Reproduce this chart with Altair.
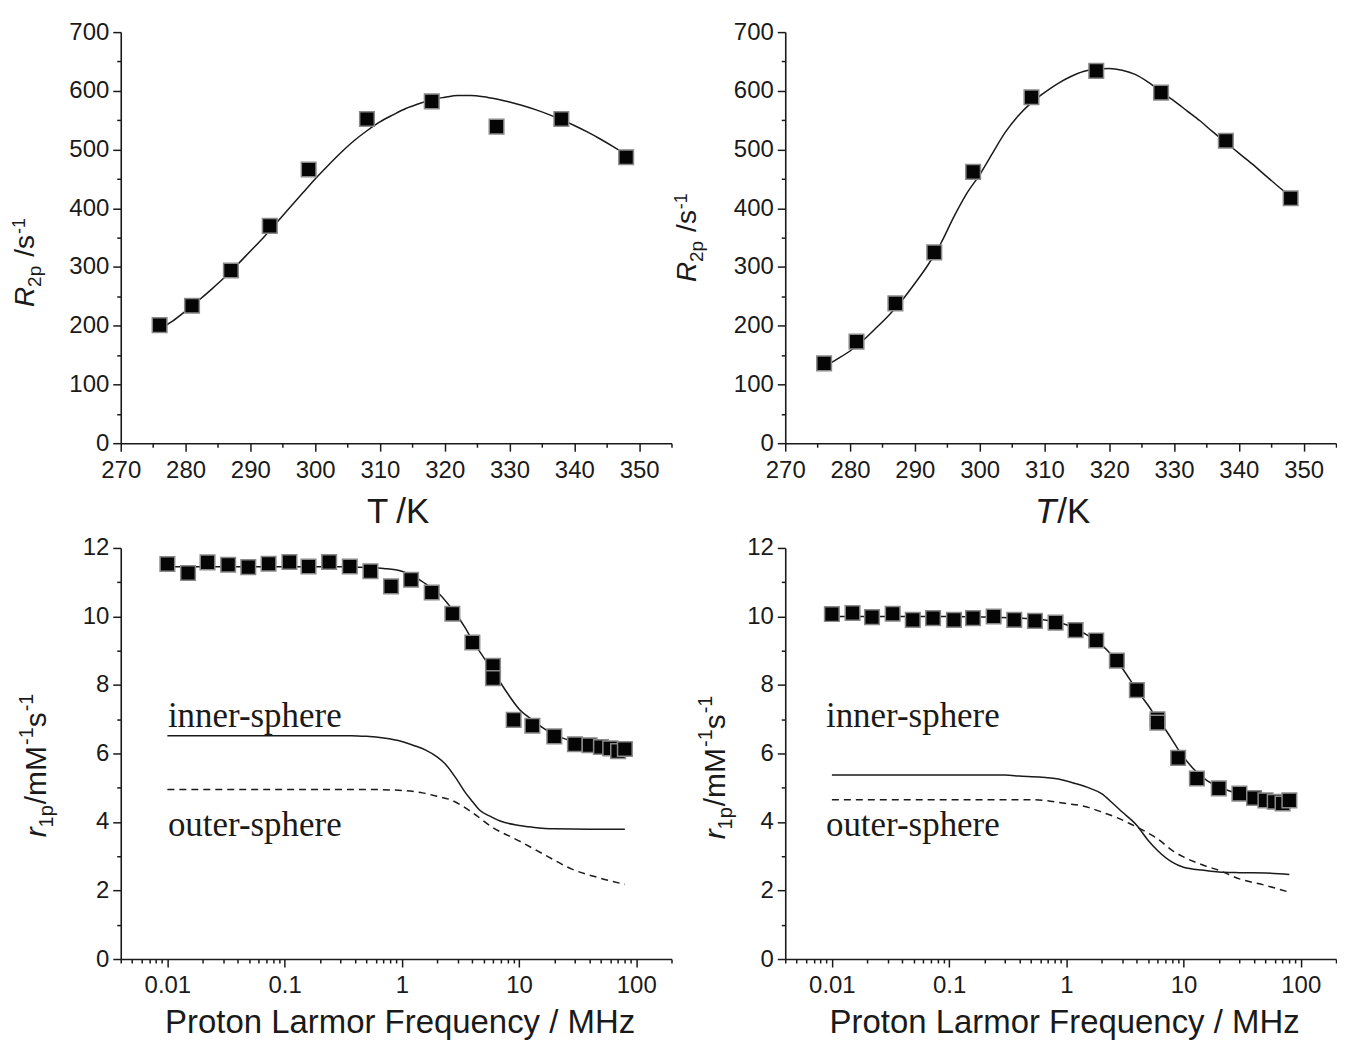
import altair as alt
import pandas as pd

# ---------------- data ----------------
# top panels: transverse relaxation rate vs temperature
T_pts = [276, 281, 287, 293, 299, 308, 318, 328, 338, 348]
R2p_left = [201, 234, 294, 370, 466, 552, 582, 539, 552, 487]
R2p_right = [136, 173, 238, 325, 462, 589, 634, 597, 515, 417]

T_fit = [276, 278, 280, 282, 284, 286, 288, 290, 292, 294, 296, 298, 300,
         302, 304, 306, 308, 310, 312, 314, 316, 318, 320, 322, 324, 326,
         328, 330, 332, 334, 336, 338, 340, 342, 344, 346, 348]
R2p_left_fit = [195, 208, 225, 243, 262, 282, 304, 327, 350, 375, 400, 425,
                450, 473, 495, 515, 532, 547, 559, 570, 578, 585, 589, 592,
                592, 590, 586, 581, 575, 568, 560, 551, 541, 530, 518, 505, 491]
R2p_right_fit = [130, 143, 157, 175, 196, 218, 243, 272, 303, 340, 385, 425,
                 457, 494, 530, 558, 580, 597, 612, 624, 633, 637, 638, 635,
                 628, 615, 599, 583, 566, 549, 530, 512, 494, 476, 457, 438, 420]

# bottom panels: NMRD profiles
freq = [0.01, 0.015, 0.022, 0.033, 0.049, 0.073, 0.11, 0.16, 0.24, 0.36,
        0.54, 0.81, 1.2, 1.8, 2.7, 4.0, 6.0, 6.0, 9.0, 13, 20, 30, 40, 50,
        60, 70, 80]
r1p_left = [11.53, 11.27, 11.58, 11.51, 11.44, 11.54, 11.59, 11.46, 11.59,
            11.46, 11.32, 10.88, 11.07, 10.70, 10.08, 9.24, 8.56, 8.20, 6.98,
            6.81, 6.50, 6.27, 6.24, 6.19, 6.15, 6.07, 6.13]
r1p_right = [10.07, 10.10, 9.98, 10.08, 9.90, 9.95, 9.90, 9.95, 10.00, 9.90,
             9.87, 9.82, 9.60, 9.30, 8.71, 7.85, 7.00, 6.90, 5.87, 5.27, 4.98,
             4.83, 4.70, 4.63, 4.59, 4.54, 4.63]

f_tot_left = [0.01, 0.03, 0.1, 0.3, 0.5, 0.7, 1.0, 1.3, 1.6, 2.0, 2.5, 3.0,
              3.5, 4.0, 5.0, 6.0, 7.0, 8.0, 10, 13, 16, 20, 25, 30, 40, 50,
              60, 70, 80]
tot_left = [11.45, 11.45, 11.45, 11.45, 11.43, 11.40, 11.32, 11.15, 10.95,
            10.72, 10.35, 10.0, 9.65, 9.3, 8.8, 8.4, 8.05, 7.75, 7.3, 6.98,
            6.75, 6.55, 6.42, 6.34, 6.26, 6.22, 6.18, 6.15, 6.13]
f_in_left = [0.01, 0.1, 0.37, 0.5, 0.7, 1.0, 1.3, 1.6, 2.0, 2.4, 3.0, 3.5,
             4.0, 4.6, 5.8, 7.0, 10, 13, 20, 40, 80]
in_left = [6.52, 6.52, 6.52, 6.50, 6.45, 6.35, 6.22, 6.10, 5.90, 5.66, 5.20,
           4.85, 4.60, 4.35, 4.15, 4.02, 3.90, 3.85, 3.80, 3.79, 3.79]
f_out_left = [0.01, 0.5, 1.0, 1.5, 2.0, 2.6, 3.9, 5.9, 10, 17, 28, 47, 80]
out_left = [4.95, 4.95, 4.92, 4.85, 4.75, 4.65, 4.30, 3.85, 3.45, 3.02, 2.63,
            2.38, 2.18]

f_tot_right = [0.01, 0.1, 0.4, 0.7, 1.0, 1.2, 1.5, 2.0, 2.5, 3.0, 4.0, 5.0,
               6.0, 7.0, 8.0, 9.0, 10, 13, 16, 20, 25, 30, 40, 50, 60, 80]
tot_right = [10.0, 10.0, 9.95, 9.88, 9.76, 9.64, 9.46, 9.17, 8.83, 8.49, 7.85,
             7.40, 7.00, 6.70, 6.40, 6.12, 5.90, 5.45, 5.20, 5.02, 4.90, 4.82,
             4.72, 4.66, 4.62, 4.58]
f_in_right = [0.01, 0.3, 0.4, 0.8, 1.2, 1.6, 2.0, 2.5, 3.0, 4.0, 5.0, 6.0,
              8.0, 10, 15, 20, 30, 50, 80]
in_right = [5.37, 5.37, 5.34, 5.27, 5.12, 4.98, 4.83, 4.54, 4.29, 3.90, 3.46,
            3.17, 2.83, 2.68, 2.59, 2.54, 2.52, 2.51, 2.47]
f_out_right = [0.01, 0.5, 1.0, 1.5, 2.0, 2.6, 3.5, 4.5, 6.0, 8.0, 10, 15, 20,
               30, 50, 80]
out_right = [4.65, 4.65, 4.54, 4.44, 4.29, 4.15, 3.95, 3.76, 3.51, 3.17, 2.98,
             2.73, 2.59, 2.34, 2.15, 1.95]

# tick values
T_ticks = [270, 275, 280, 285, 290, 295, 300, 305, 310, 315, 320, 325, 330,
           335, 340, 345, 350, 355]
R_ticks = [0, 50, 100, 150, 200, 250, 300, 350, 400, 450, 500, 550, 600, 650, 700]
f_ticks = [0.004, 0.005, 0.006, 0.007, 0.008, 0.009,
           0.01, 0.02, 0.03, 0.04, 0.05, 0.06, 0.07, 0.08, 0.09,
           0.1, 0.2, 0.3, 0.4, 0.5, 0.6, 0.7, 0.8, 0.9,
           1, 2, 3, 4, 5, 6, 7, 8, 9,
           10, 20, 30, 40, 50, 60, 70, 80, 90, 100, 200]
r_ticks = [0, 1, 2, 3, 4, 5, 6, 7, 8, 9, 10, 11, 12]

# ---------------- styling ----------------
FONT = "Liberation Sans"
SERIF = "Liberation Serif"
INK = "#1a1a1a"
W, H = 552, 412
LABEL_SIZE = 24
TITLE_SIZE = 33
T_TITLE_SIZE = 35
ONE = pd.DataFrame({"k": [0]})

ADV = {"R": 0.722, "2": 0.556, "p": 0.556, " ": 0.278, "/": 0.278, "s": 0.5,
       "-": 0.333, "1": 0.556, "r": 0.333, "m": 0.833, "M": 0.833,
       "T": 0.611, "K": 0.667}


def text_w(s, size):
    return sum(ADV[c] for c in s) * size


def axis(values, major_test, label_expr, pad):
    return alt.Axis(
        values=values, title=None, grid=False, labelExpr=label_expr,
        tickSize={"condition": {"test": major_test, "value": 8}, "value": 4},
        tickWidth=1.5, tickColor=INK, domainColor=INK, domainWidth=1.6,
        labelFont=FONT, labelFontSize=LABEL_SIZE, labelColor=INK,
        labelPadding=pad, labelOverlap=False, labelFlush=False,
        labelBound=False)


T_scale = alt.Scale(domain=[270, 355], nice=False, zero=False)
R_scale = alt.Scale(domain=[0, 700], nice=False)
f_scale = alt.Scale(type="log", domain=[0.004, 200], nice=False)
r_scale = alt.Scale(domain=[0, 12], nice=False)

T_axis = axis(T_ticks, "datum.value % 10 === 0",
              "datum.value % 10 === 0 ? datum.label : ''", 7)
R_axis = axis(R_ticks, "datum.value % 100 === 0",
              "datum.value % 100 === 0 ? datum.label : ''", 4)
LOGMAJ = "abs(log(datum.value)/LN10 - round(log(datum.value)/LN10)) < 0.001"
f_axis = axis(f_ticks, LOGMAJ,
              LOGMAJ + " ? format(datum.value, '~g') : ''", 7)
r_axis = axis(r_ticks, "datum.value % 2 === 0",
              "datum.value % 2 === 0 ? datum.label : ''", 4)


def text_at(s, x, y, size, angle=0, italic=False, align="left", font=FONT):
    return alt.Chart(ONE).mark_text(
        text=s, font=font, fontSize=size,
        fontStyle="italic" if italic else "normal", angle=angle,
        align=align, baseline="alphabetic", color=INK,
    ).encode(x=alt.value(x), y=alt.value(y))


def y_title(pieces, xb, yc):
    # pieces: (text, size, italic, perpendicular shift, gap before)
    total = sum(text_w(s, size) + gap for s, size, it, sh, gap in pieces)
    y = yc + total / 2
    out = []
    for s, size, it, sh, gap in pieces:
        y -= gap
        out.append(text_at(s, xb + sh, y, size, angle=270, italic=it))
        y -= text_w(s, size)
    return out


def x_title_TK(italic_T, gap):
    total = text_w("T", T_TITLE_SIZE) + gap + text_w("/K", T_TITLE_SIZE)
    x0 = W / 2 + 2 - total / 2
    return [
        text_at("T", x0, H + 80, T_TITLE_SIZE, italic=italic_T),
        text_at("/K", x0 + text_w("T", T_TITLE_SIZE) + gap, H + 80, T_TITLE_SIZE),
    ]


R_TITLE = [("R", 28, True, 0, 0), ("2p", 19, False, 7, 0),
           ("/s", 28, False, 0, 9), ("-1", 18, False, -9, 1)]
r_TITLE = [("r", 30, True, 0, 0), ("1p", 20, False, 7, 0),
           ("/mM", 30, False, 0, 1), ("-1", 20, False, -13, 1),
           ("s", 30, False, 0, 0), ("-1", 20, False, -13, 1)]


def points(df, xs, xa, ys, ya):
    return alt.Chart(df).mark_square(
        size=215, fill="#050505", stroke="#8a8a8a", strokeWidth=1.5,
        fillOpacity=1, opacity=1,
    ).encode(x=alt.X("x:Q", scale=xs, axis=xa), y=alt.Y("y:Q", scale=ys, axis=ya))


def line(df, xs, xa, ys, ya, dash=None):
    kw = dict(color=INK, strokeWidth=1.5, interpolate="monotone")
    if dash:
        kw["strokeDash"] = dash
    return alt.Chart(df).mark_line(**kw).encode(
        x=alt.X("x:Q", scale=xs, axis=xa), y=alt.Y("y:Q", scale=ys, axis=ya))


def df(x, y):
    return pd.DataFrame({"x": x, "y": y})


def sphere_label(s, fx, ry):
    return alt.Chart(ONE).mark_text(
        text=s, font=SERIF, fontSize=35, align="left", baseline="alphabetic",
        color=INK,
    ).encode(x=alt.XDatum(fx, type="quantitative", scale=f_scale, axis=f_axis),
             y=alt.YDatum(ry, type="quantitative", scale=r_scale, axis=r_axis))


# ---------------- panels ----------------
top_left = alt.layer(
    line(df(T_fit, R2p_left_fit), T_scale, T_axis, R_scale, R_axis),
    points(df(T_pts, R2p_left), T_scale, T_axis, R_scale, R_axis),
    *x_title_TK(False, 8),
    *y_title(R_TITLE, -87, 231),
).properties(width=W, height=H)

top_right = alt.layer(
    line(df(T_fit, R2p_right_fit), T_scale, T_axis, R_scale, R_axis),
    points(df(T_pts, R2p_right), T_scale, T_axis, R_scale, R_axis),
    *x_title_TK(True, 1),
    *y_title(R_TITLE, -89, 206),
).properties(width=W, height=H)

bottom_left = alt.layer(
    line(df(f_tot_left, tot_left), f_scale, f_axis, r_scale, r_axis),
    line(df(f_in_left, in_left), f_scale, f_axis, r_scale, r_axis),
    line(df(f_out_left, out_left), f_scale, f_axis, r_scale, r_axis, dash=[7, 5]),
    points(df(freq, r1p_left), f_scale, f_axis, r_scale, r_axis),
    sphere_label("inner-sphere", 0.0101, 6.77),
    sphere_label("outer-sphere", 0.0101, 3.58),
    text_at("Proton Larmor Frequency / MHz", W / 2 + 4, H + 74, TITLE_SIZE,
            align="center"),
    *y_title(r_TITLE, -75, 218),
).properties(width=W, height=H)

bottom_right = alt.layer(
    line(df(f_tot_right, tot_right), f_scale, f_axis, r_scale, r_axis),
    line(df(f_in_right, in_right), f_scale, f_axis, r_scale, r_axis),
    line(df(f_out_right, out_right), f_scale, f_axis, r_scale, r_axis, dash=[7, 5]),
    points(df(freq, r1p_right), f_scale, f_axis, r_scale, r_axis),
    sphere_label("inner-sphere", 0.0089, 6.77),
    sphere_label("outer-sphere", 0.0089, 3.58),
    text_at("Proton Larmor Frequency / MHz", W / 2 + 4, H + 74, TITLE_SIZE,
            align="center"),
    *y_title(r_TITLE, -60, 220),
).properties(width=W, height=H)

chart = alt.concat(
    top_left, top_right, bottom_left, bottom_right,
    columns=2, spacing={"row": 105, "column": 114}, bounds="flush",
).properties(
    padding={"left": 3, "top": 11, "right": 0, "bottom": 0},
    background="white",
).configure_view(strokeWidth=0)

chart.save("out.html", embed_options={"renderer": "svg", "actions": False})
